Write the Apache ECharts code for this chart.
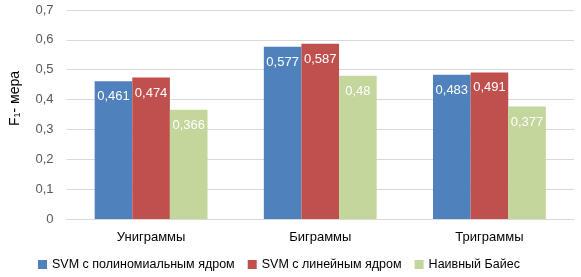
<!DOCTYPE html>
<html>
<head>
<meta charset="utf-8">
<script src="https://cdn.jsdelivr.net/npm/echarts@6/dist/echarts.min.js"></script>
<style>
  html, body { margin: 0; padding: 0; background: #fff; }
  #chart { width: 581px; height: 277px; }
</style>
</head>
<body>
<div id="chart"></div>
<script>
const categories = ["Униграммы", "Биграммы", "Триграммы"];
const seriesNames = ["SVM с полиномиальным ядром", "SVM с линейным ядром", "Наивный Байес"];
const polySvm = [0.461, 0.577, 0.483];
const linearSvm = [0.474, 0.587, 0.491];
const naiveBayes = [0.366, 0.48, 0.377];
const colors = ["#4F81BD", "#C0504D", "#C3D69B"];

const font = "Liberation Sans, Arial, sans-serif";
const fmt = (v) => String(v).replace(".", ",");

const chart = echarts.init(document.getElementById("chart"));

const makeSeries = (name, data, color) => ({
    name: name,
    type: "bar",
    data: data,
    barGap: "0%",
    barCategoryGap: "33.3%",
    itemStyle: { color: color },
    label: {
        show: true,
        position: "insideTop",
        distance: 9,
        color: "#fff",
        fontFamily: font,
        fontSize: 13,
        formatter: (p) => fmt(p.value)
    }
});

chart.setOption({
    animation: false,
    grid: { left: 66, right: 7, top: 10, bottom: 58 },
    legend: {
        left: 33,
        bottom: 1,
        itemWidth: 9,
        itemHeight: 9,
        itemGap: 13,
        icon: "rect",
        textStyle: { color: "#000", fontFamily: font, fontSize: 12.5 },
        data: seriesNames
    },
    xAxis: {
        type: "category",
        data: categories,
        axisTick: { show: false },
        axisLine: { lineStyle: { color: "#D9D9D9" } },
        axisLabel: { color: "#000", fontFamily: font, fontSize: 13, margin: 12 }
    },
    yAxis: {
        type: "value",
        min: 0,
        max: 0.7,
        interval: 0.1,
        name: "{a|F}{s|1}{a|- мера}",
        nameLocation: "middle",
        nameGap: 44,
        nameRotate: 90,
        nameTextStyle: {
            padding: [0, 0, 0, 32],
            rich: {
                a: { fontFamily: font, fontSize: 14, color: "#000" },
                s: { fontFamily: font, fontSize: 9, color: "#000", verticalAlign: "bottom", padding: [6, 0, 0, 0] }
            }
        },
        axisLabel: {
            color: "#595959",
            fontFamily: font,
            fontSize: 13,
            margin: 13,
            formatter: (v) => fmt(Math.round(v * 10) / 10)
        },
        splitLine: { lineStyle: { color: "#D9D9D9" } }
    },
    series: [
        makeSeries(seriesNames[0], polySvm, colors[0]),
        makeSeries(seriesNames[1], linearSvm, colors[1]),
        makeSeries(seriesNames[2], naiveBayes, colors[2])
    ]
});
</script>
</body>
</html>
